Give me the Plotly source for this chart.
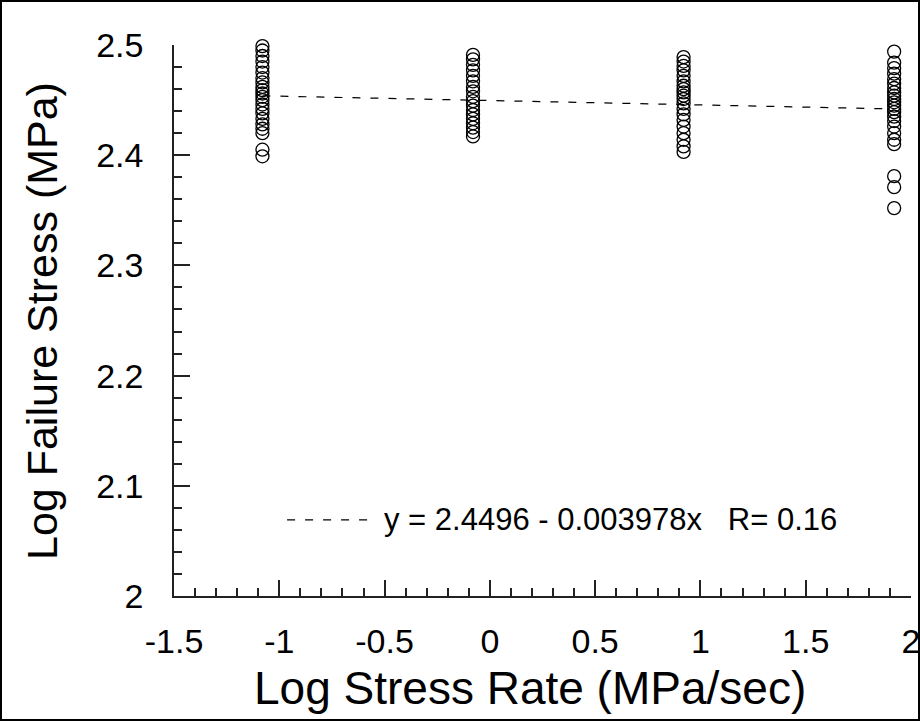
import plotly.graph_objects as go

# Data
rate_groups = [-1.08, -0.08, 0.92, 1.92]
stress_g1 = [2.499, 2.495, 2.490, 2.485, 2.480, 2.475, 2.470, 2.466, 2.462, 2.459, 2.456,
             2.453, 2.450, 2.446, 2.442, 2.438, 2.433, 2.428, 2.424, 2.420, 2.405, 2.399]
stress_g2 = [2.491, 2.487, 2.482, 2.477, 2.472, 2.467, 2.462, 2.458, 2.453, 2.449, 2.445,
             2.441, 2.437, 2.433, 2.429, 2.425, 2.421, 2.417]
stress_g3 = [2.489, 2.485, 2.481, 2.477, 2.472, 2.467, 2.463, 2.460, 2.457, 2.454, 2.451,
             2.447, 2.442, 2.437, 2.432, 2.426, 2.420, 2.414, 2.408, 2.403]
stress_g4 = [2.494, 2.484, 2.479, 2.474, 2.469, 2.465, 2.461, 2.457, 2.454, 2.451, 2.448,
             2.445, 2.442, 2.439, 2.435, 2.431, 2.426, 2.420, 2.414, 2.410, 2.381, 2.371, 2.352]
fit_intercept = 2.4496
fit_slope = -0.003978
fit_R = 0.16
x_ticks = [-1.5, -1, -0.5, 0, 0.5, 1, 1.5, 2]
x_ticktext = ["-1.5", "-1", "-0.5", "0", "0.5", "1", "1.5", "2"]
y_ticks = [2, 2.1, 2.2, 2.3, 2.4, 2.5]
y_ticktext = ["2", "2.1", "2.2", "2.3", "2.4", "2.5"]

groups = [stress_g1, stress_g2, stress_g3, stress_g4]
xs, ys = [], []
for xv, g in zip(rate_groups, groups):
    xs += [xv] * len(g)
    ys += g

FONT = "Liberation Sans, Arial, sans-serif"
fig = go.Figure()
fig.add_trace(go.Scatter(
    x=xs, y=ys, mode="markers", cliponaxis=False,
    marker=dict(symbol="circle", size=13, color="rgba(0,0,0,0)",
                line=dict(color="black", width=1.3)),
    showlegend=False, hoverinfo="x+y"))

fx = [rate_groups[0], rate_groups[-1]]
fy = [fit_intercept + fit_slope * v for v in fx]
fig.add_trace(go.Scatter(
    x=fx, y=fy, mode="lines",
    line=dict(color="black", width=1.2, dash="8px,10px"),
    showlegend=False, hoverinfo="skip"))

# legend sample line + equation text
fig.add_trace(go.Scatter(
    x=[-0.963, -0.546], y=[2.069, 2.069], mode="lines",
    line=dict(color="black", width=1.2, dash="8px,10px"),
    showlegend=False, hoverinfo="skip"))
fig.add_annotation(
    x=-0.51, y=2.069, xref="x", yref="y", xanchor="left", yanchor="middle",
    text=f"y = {fit_intercept} - {abs(fit_slope):.6f}x   R= {fit_R}",
    showarrow=False, font=dict(family=FONT, size=31, color="black"))

W, H = 920, 721
L, R, T, B = 174, 9, 45, 125
pw, ph = W - L - R, H - T - B
fig.add_shape(type="rect", xref="paper", yref="paper",
              x0=(1 - L) / pw, x1=(W - 1 - L) / pw,
              y0=-(B - 1) / ph, y1=(ph + T - 1) / ph,
              line=dict(color="black", width=2))

# axis titles as annotations (positioned like the reference)
fig.add_annotation(x=(530 - L) / pw, y=(H - B - 688) / ph, xref="paper", yref="paper",
                   xanchor="center", yanchor="middle", showarrow=False,
                   text="Log Stress Rate (MPa/sec)",
                   font=dict(family=FONT, size=46, color="black"))
fig.add_annotation(x=(42 - L) / pw, y=(H - B - 321) / ph, xref="paper", yref="paper",
                   xanchor="center", yanchor="middle", showarrow=False, textangle=-90,
                   text="Log Failure Stress (MPa)",
                   font=dict(family=FONT, size=43, color="black"))

axis_common = dict(showgrid=False, zeroline=False, showline=True, linecolor="#222",
                   linewidth=1.5, ticks="inside", tickcolor="#222", tickwidth=1.5,
                   ticklabeloverflow="allow", automargin=False,
                   tickfont=dict(family=FONT, size=34, color="black"))
fig.update_xaxes(range=[-1.5, 2], tickvals=x_ticks, ticktext=x_ticktext, ticklen=16,
                 minor=dict(dtick=0.1, tick0=-1.5, ticks="inside", ticklen=8,
                            tickcolor="#222", tickwidth=1.5),
                 ticklabelstandoff=14, **axis_common)
fig.update_yaxes(range=[2, 2.5], tickvals=y_ticks, ticktext=y_ticktext, ticklen=16,
                 minor=dict(dtick=0.02, tick0=2, ticks="inside", ticklen=8,
                            tickcolor="#222", tickwidth=1.5),
                 ticklabelstandoff=22, **axis_common)
fig.update_layout(width=W, height=H, margin=dict(l=L, r=R, t=T, b=B, autoexpand=False),
                  plot_bgcolor="white", paper_bgcolor="white")
fig.write_html("out.html")
